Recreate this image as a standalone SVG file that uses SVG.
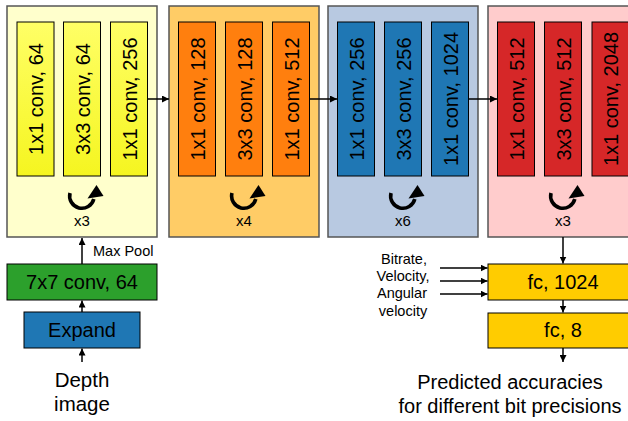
<svg xmlns="http://www.w3.org/2000/svg" width="628" height="421" viewBox="0 0 628 421">
<defs>
<style>
text{font-family:"Liberation Sans",Arial,sans-serif;fill:#000}
.grp{stroke:#555;stroke-width:1.5}
.box{stroke:#000;stroke-width:1}
.vt{font-size:20px;text-anchor:middle}
.lbl{font-size:20px;text-anchor:middle}
.rep{font-size:15px;text-anchor:middle}
.sm{font-size:14.5px}
.ln{stroke:#000;stroke-width:1.5;fill:none}
.loop{stroke:#000;stroke-width:3.6;fill:none}
</style>
<marker id="ah" viewBox="0 0 10 10" refX="10" refY="5" markerWidth="7" markerHeight="7" markerUnits="userSpaceOnUse" orient="auto">
<path d="M0,0 L10,5 L0,10 Z" fill="#000"/>
</marker>
<linearGradient id="yg" x1="0" y1="0" x2="0" y2="1">
<stop offset="0" stop-color="#FFFF66"/>
<stop offset="1" stop-color="#F5F520"/>
</linearGradient>
<g id="loopicon">
<path class="loop" d="M-12,-3 A12.2,12.2 0 0 0 11.8,3"/>
<polygon points="14.5,-11 5.5,2.5 21.5,0" fill="#000"/>
</g>
</defs>

<g id="stage1">
<rect class="grp" x="7" y="6" width="150" height="231" fill="#FFFFCC"/>
<rect class="box" x="17" y="22" width="37" height="154" fill="url(#yg)"/>
<rect class="box" x="63.5" y="22" width="37" height="154" fill="url(#yg)"/>
<rect class="box" x="110.5" y="22" width="37" height="154" fill="url(#yg)"/>
<text class="vt" transform="translate(43,99) rotate(-90)">1x1 conv, 64</text>
<text class="vt" transform="translate(89.5,99) rotate(-90)">3x3 conv, 64</text>
<text class="vt" transform="translate(136.5,99) rotate(-90)">1x1 conv, 256</text>
<use href="#loopicon" x="82" y="196"/>
<text class="rep" x="82" y="226">x3</text>
</g>

<g id="stage2">
<rect class="grp" x="169" y="6" width="150" height="231" fill="#FFCC66"/>
<rect class="box" x="178.5" y="22" width="37" height="154" fill="#FF7F0E"/>
<rect class="box" x="225.5" y="22" width="37" height="154" fill="#FF7F0E"/>
<rect class="box" x="272.5" y="22" width="37" height="154" fill="#FF7F0E"/>
<text class="vt" transform="translate(204.5,99) rotate(-90)">1x1 conv, 128</text>
<text class="vt" transform="translate(251.5,99) rotate(-90)">3x3 conv, 128</text>
<text class="vt" transform="translate(298.5,99) rotate(-90)">1x1 conv, 512</text>
<use href="#loopicon" x="244" y="196"/>
<text class="rep" x="244" y="226">x4</text>
</g>

<g id="stage3">
<rect class="grp" x="328" y="6" width="150" height="231" fill="#B8C9E1"/>
<rect class="box" x="337.5" y="22" width="37" height="154" fill="#1F77B4"/>
<rect class="box" x="384.5" y="22" width="37" height="154" fill="#1F77B4"/>
<rect class="box" x="431.5" y="22" width="37" height="154" fill="#1F77B4"/>
<text class="vt" transform="translate(363.5,99) rotate(-90)">1x1 conv, 256</text>
<text class="vt" transform="translate(410.5,99) rotate(-90)">3x3 conv, 256</text>
<text class="vt" transform="translate(457.5,99) rotate(-90)">1x1 conv, 1024</text>
<use href="#loopicon" x="403" y="196"/>
<text class="rep" x="403" y="226">x6</text>
</g>

<g id="stage4">
<rect class="grp" x="488" y="6" width="150" height="231" fill="#FFCCCC"/>
<rect class="box" x="497.5" y="22" width="37" height="154" fill="#D62728"/>
<rect class="box" x="544.5" y="22" width="37" height="154" fill="#D62728"/>
<rect class="box" x="592" y="22" width="37" height="154" fill="#D62728"/>
<text class="vt" transform="translate(523.5,99) rotate(-90)">1x1 conv, 512</text>
<text class="vt" transform="translate(570.5,99) rotate(-90)">3x3 conv, 512</text>
<text class="vt" transform="translate(618,99) rotate(-90)">1x1 conv, 2048</text>
<use href="#loopicon" x="563" y="196"/>
<text class="rep" x="563" y="226">x3</text>
</g>

<g id="conv7">
<rect class="box" x="7" y="264" width="150" height="36" fill="#2CA02C"/>
<text class="lbl" x="82" y="289">7x7 conv, 64</text>
</g>

<g id="expand">
<rect class="box" x="24" y="312" width="116" height="36" fill="#1F77B4"/>
<text class="lbl" x="82" y="337">Expand</text>
</g>

<g id="depth">
<text class="lbl" x="82" y="387" style="font-size:20.5px">Depth</text>
<text class="lbl" x="82" y="411" style="font-size:20.5px">image</text>
</g>

<g id="fc1024">
<rect class="box" x="488" y="264" width="150" height="36" fill="#FFCC00"/>
<text class="lbl" x="563" y="289">fc, 1024</text>
</g>

<g id="fc8">
<rect class="box" x="488" y="313" width="150" height="35" fill="#FFCC00"/>
<text class="lbl" x="563" y="337">fc, 8</text>
</g>

<g id="inputs">
<text class="sm" text-anchor="middle" x="404" y="264">Bitrate,</text>
<text class="sm" text-anchor="middle" x="403" y="281">Velocity,</text>
<text class="sm" text-anchor="middle" x="402" y="298">Angular</text>
<text class="sm" text-anchor="middle" x="403" y="316">velocity</text>
</g>

<g id="output">
<text class="lbl" x="510" y="389">Predicted accuracies</text>
<text class="lbl" x="510" y="413">for different bit precisions</text>
</g>

<g id="connectors">
<line class="ln" x1="148" y1="99" x2="169" y2="99" marker-end="url(#ah)"/>
<line class="ln" x1="310" y1="99" x2="337" y2="99" marker-end="url(#ah)"/>
<line class="ln" x1="469" y1="99" x2="497" y2="99" marker-end="url(#ah)"/>
<line class="ln" x1="82" y1="264" x2="82" y2="238" marker-end="url(#ah)"/>
<text class="sm" x="93" y="256">Max Pool</text>
<line class="ln" x1="82" y1="312" x2="82" y2="300.5" marker-end="url(#ah)"/>
<line class="ln" x1="82" y1="362" x2="82" y2="348.5" marker-end="url(#ah)"/>
<line class="ln" x1="563" y1="237" x2="563" y2="263.5" marker-end="url(#ah)"/>
<line class="ln" x1="563" y1="300" x2="563" y2="312.5" marker-end="url(#ah)"/>
<line class="ln" x1="563" y1="348" x2="563" y2="362" marker-end="url(#ah)"/>
<line class="ln" x1="440" y1="268" x2="487.5" y2="268" marker-end="url(#ah)"/>
<line class="ln" x1="440" y1="281" x2="487.5" y2="281" marker-end="url(#ah)"/>
<line class="ln" x1="440" y1="294" x2="487.5" y2="294" marker-end="url(#ah)"/>
</g>
</svg>
